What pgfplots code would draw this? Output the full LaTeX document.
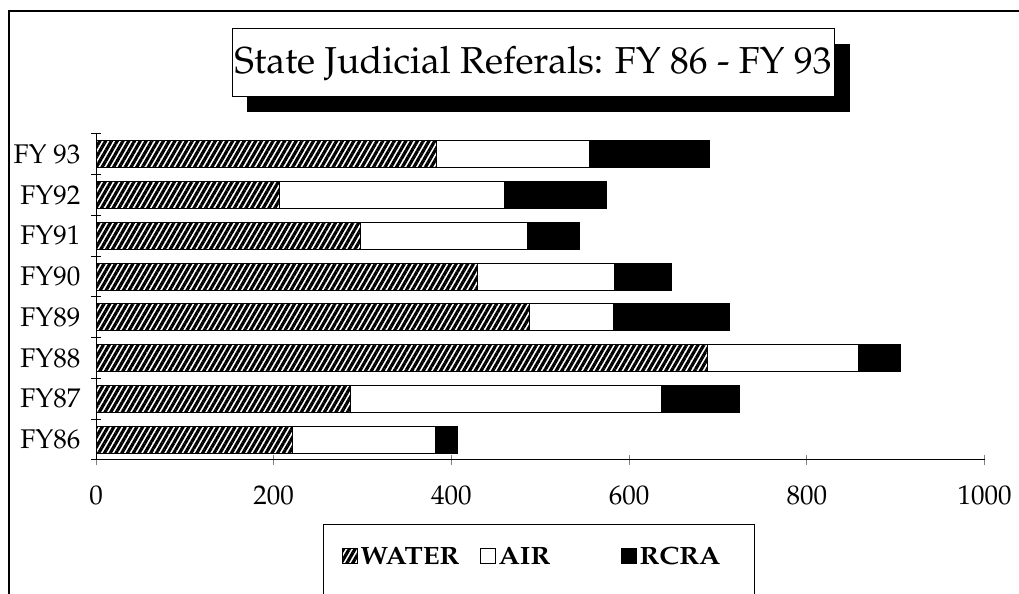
\documentclass[border=0pt]{standalone}
\usepackage[T1]{fontenc}
\usepackage{mathpazo}
\usepackage{graphicx}
\usepackage{pgfplots}
\pgfplotsset{compat=1.18}
\usetikzlibrary{patterns.meta}
\newcommand{\lw}[1]{\scalebox{1.1}[1]{#1}}
\begin{document}
\begin{tikzpicture}
\useasboundingbox (0bp,0bp) rectangle (1019bp,594bp);
% outer frame (cropped scan)
\draw[line width=1.5bp] (9bp,0bp) -- (9bp,583bp) -- (1019bp,583bp);
% title with shadow
\fill[black] (247bp,482bp) rectangle (850bp,550bp);
\draw[fill=white, line width=1bp] (232bp,497bp) rectangle (834bp,565bp);
\node[font=\fontsize{37.5bp}{44bp}\selectfont] at (533bp,531bp) {State Judicial Referals: FY 86 - FY 93};
% legend frame
\draw[line width=1bp] (323bp,-10bp) -- (323bp,69bp) -- (754bp,69bp) -- (754bp,-10bp);
\begin{axis}[
  at={(96bp,134bp)}, anchor=south west,
  scale only axis, width=888.5bp, height=326bp,
  xmin=0, xmax=1000, ymin=-0.5, ymax=7.5,
  xbar stacked, bar width=27bp,
  axis lines=left, axis line style={-, line width=1bp},
  tick align=center,
  major tick length=10bp, minor tick length=10bp,
  xtick={0,200,...,1000},
  ytick={0,...,7},
  yticklabels={FY86,FY87,FY88,FY89,FY90,FY91,FY92,FY 93},
  minor ytick={-0.5,0.5,...,7.5},
  major y tick style={draw=none},
  minor y tick style={draw=black, line width=1bp},
  major x tick style={line width=1bp},
  /pgf/number format/assume math mode=true,
  /pgf/number format/1000 sep={},
  tick label style={font=\fontsize{27bp}{31bp}\selectfont},
  xticklabel style={yshift=-17bp},
  yticklabel style={xshift=-7bp},
  legend columns=3,
  legend style={at={(0.2735,-0.295)}, anchor=west, draw=none, fill=none,
    nodes={font=\fontsize{25bp}{29bp}\selectfont\bfseries, inner sep=2.5bp},
    /tikz/every even column/.append style={column sep=18bp}},
  legend image code/.code={\draw[#1, line width=1bp] (0bp,-7.5bp) rectangle (15bp,7.5bp);},
]
\addplot[draw=black, line width=0.8bp, pattern={Lines[angle=60,distance=5bp,line width=3.2bp]}]
  coordinates {(221,0) (286,1) (688,2) (488,3) (429,4) (298,5) (206,6) (383,7)};
\addplot[draw=black, line width=0.8bp, fill=white]
  coordinates {(161,0) (350,1) (170,2) (94,3) (154,4) (188,5) (254,6) (172,7)};
\addplot[draw=black, line width=0.8bp, fill=black]
  coordinates {(25,0) (88,1) (47,2) (131,3) (65,4) (58,5) (114,6) (135,7)};
\legend{\lw{WATER}, \makebox[102bp][l]{\lw{AIR}}, \lw{RCRA}}
\end{axis}
\end{tikzpicture}
\end{document}
